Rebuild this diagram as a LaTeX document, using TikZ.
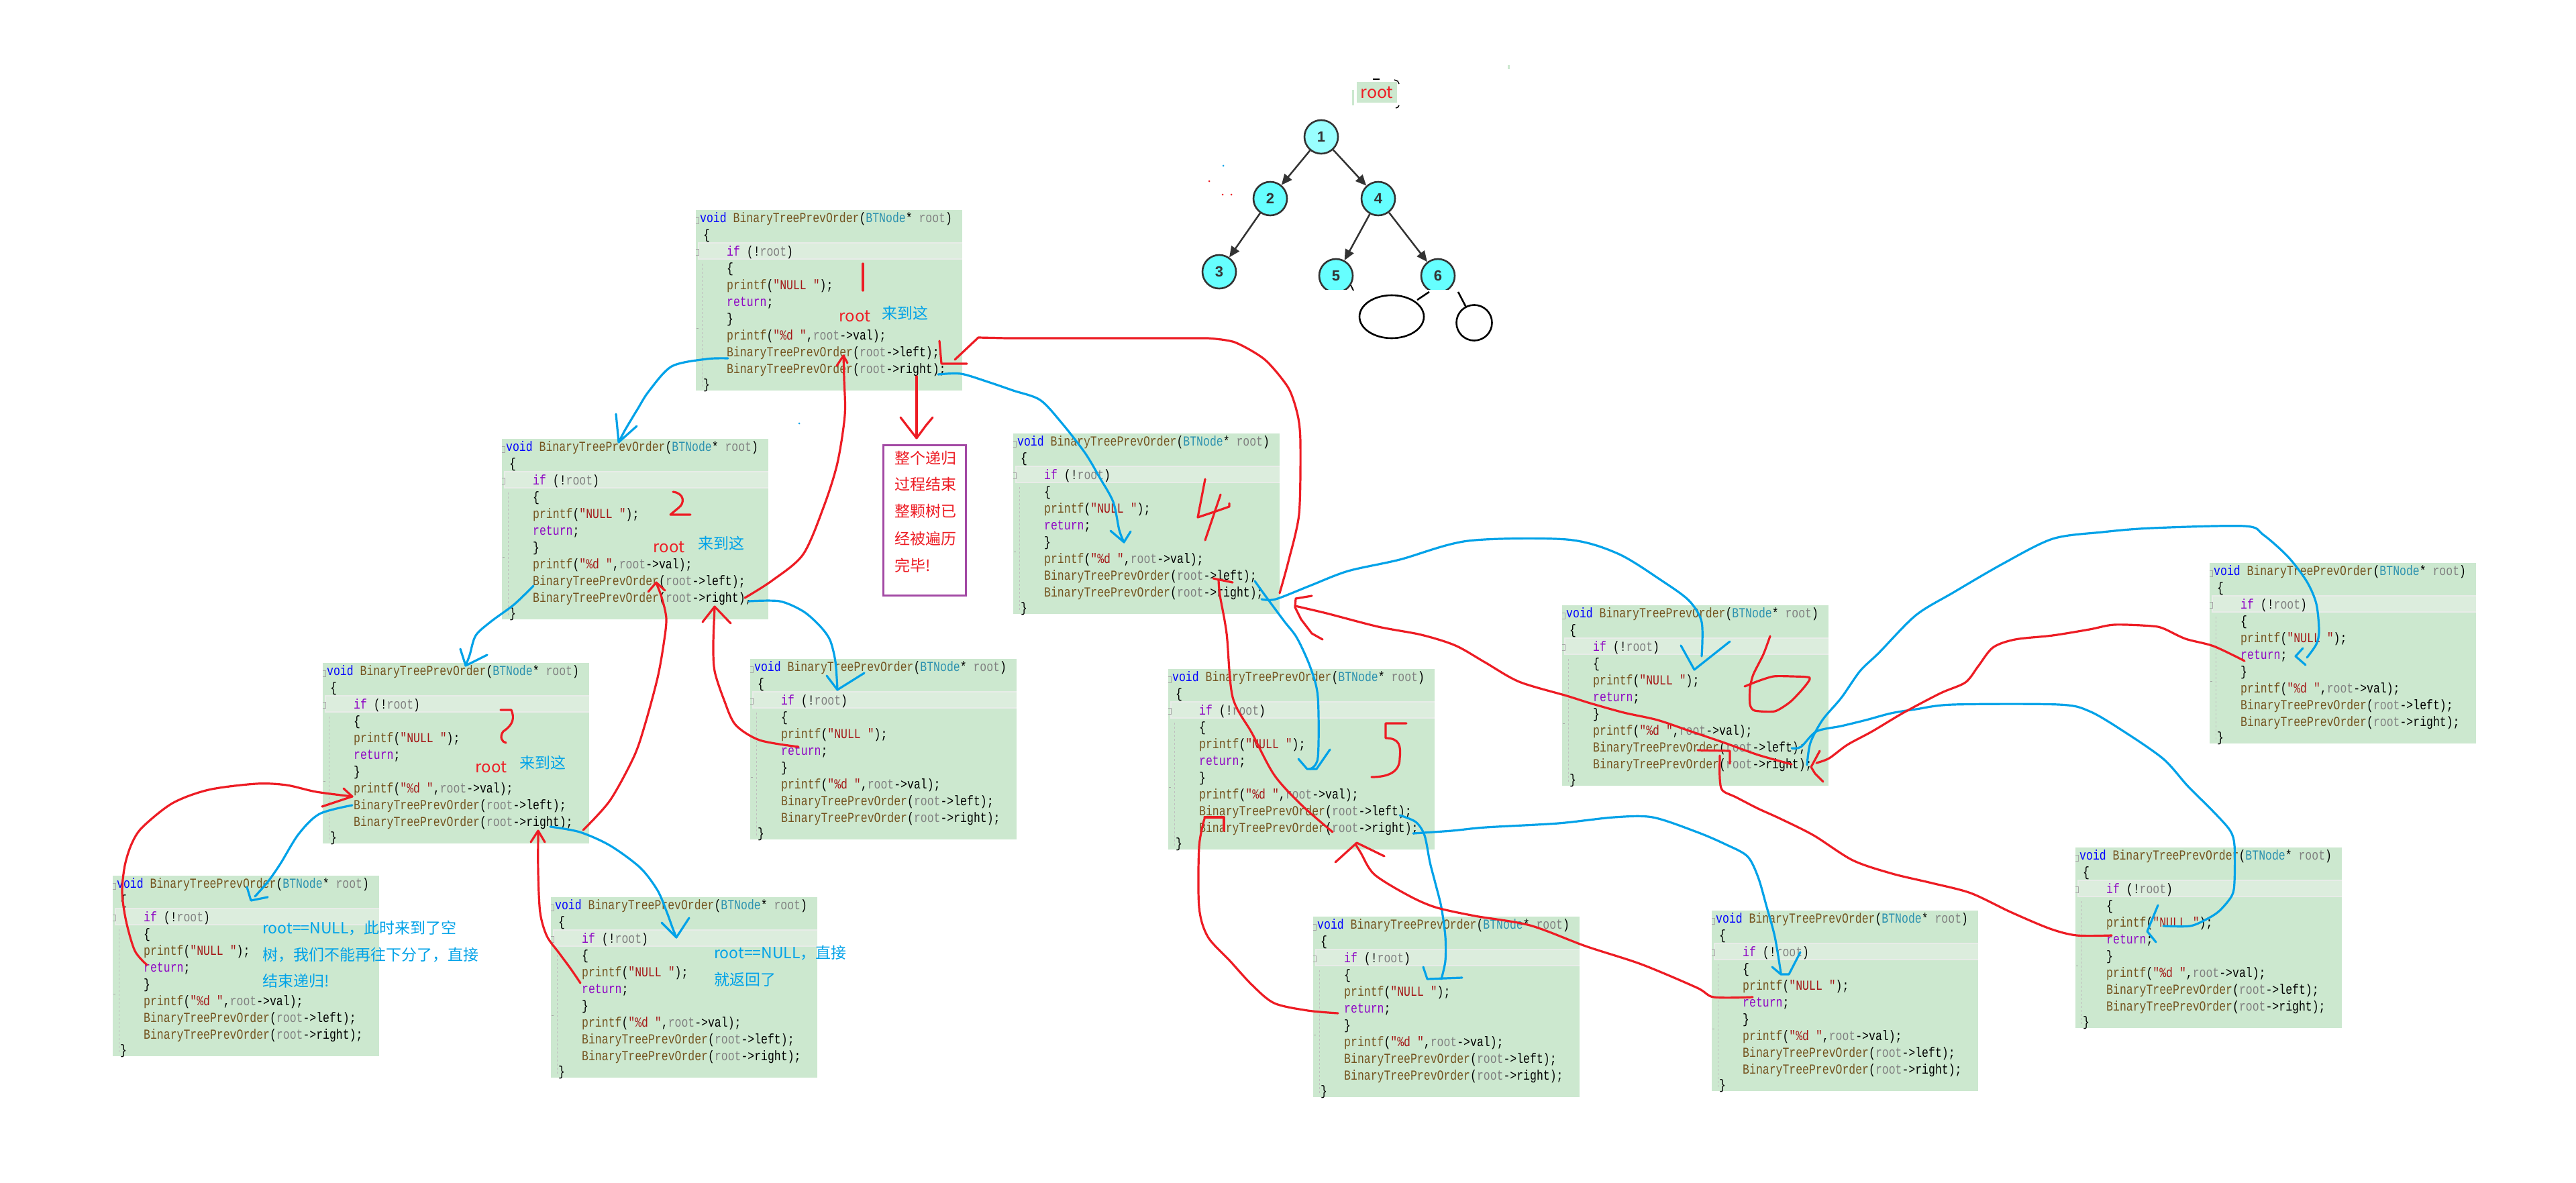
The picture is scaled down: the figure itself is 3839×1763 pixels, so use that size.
\documentclass[tikz,border=0pt]{standalone}
\usepackage{fontspec}
\usetikzlibrary{arrows.meta,shapes.geometric}
\newfontfamily\codefont[FakeStretch=0.8]{Liberation Mono}
\newfontfamily\cjk{Noto Sans CJK SC}
\newfontfamily\numfont{Liberation Sans}
\definecolor{cbg}{RGB}{204,232,207}
\definecolor{chl}{RGB}{220,237,221}
\definecolor{chlb}{RGB}{232,236,232}
\definecolor{ckw}{RGB}{0,0,255}
\definecolor{cfn}{RGB}{116,83,31}
\definecolor{cty}{RGB}{43,145,175}
\definecolor{cpr}{RGB}{128,128,128}
\definecolor{cctl}{RGB}{143,8,196}
\definecolor{cst}{RGB}{163,21,21}
\definecolor{pred}{RGB}{237,28,36}
\definecolor{pblue}{RGB}{0,162,232}
\definecolor{ppurple}{RGB}{163,73,164}
\definecolor{tcyan}{RGB}{102,255,255}
\definecolor{tcyanl}{RGB}{153,255,255}
\definecolor{tgray}{RGB}{51,51,51}
\tikzset{
  cbox/.style={anchor=north west, fill=cbg, minimum width=397pt, minimum height=269pt, inner sep=0pt},
  ct/.style={anchor=base west, inner sep=0pt, font=\codefont\fontsize{20.6}{25}\selectfont},
  guide/.style={draw=black!25, line width=0.8pt, dash pattern=on 3pt off 3pt},
  foldm/.style={draw=black!35, line width=1pt},
  rl/.style={draw=pred, line width=3.2pt, line cap=round, line join=round},
  bl/.style={draw=pblue, line width=3.2pt, line cap=round, line join=round},
  rtxt/.style={inner sep=0pt, text=pred, font=\cjk\fontsize{24}{28}\selectfont},
  btxt/.style={inner sep=0pt, text=pblue, font=\cjk\fontsize{23}{28}\selectfont},
  btxtl/.style={anchor=west, inner sep=0pt, text=pblue, font=\cjk\fontsize{23}{28}\selectfont},
  ntxt/.style={anchor=west, inner sep=0pt, text=pred, font=\cjk\fontsize{23}{28}\selectfont},
  tnode/.style={circle, draw=tgray, line width=2.6pt, fill=tcyan, minimum size=50pt, inner sep=0pt, text=tgray, font=\numfont\bfseries\fontsize{22}{24}\selectfont},
  tedge/.style={draw=tgray, line width=2.5pt, -{Triangle[length=16pt,width=14pt]}},
  hand/.style={draw=black, line width=2.6pt},
}
\newcommand\codeboxat[3]{%
\begin{scope}[shift={(#2,#3)}]
\node[cbox] (#1) at (0,0) {};
\fill[chl] (4,49) rectangle (397,73);
\draw[chlb, line width=1.6pt] (397,49) -- (4,49) -- (4,73) -- (397,73);
\draw[guide] (9,80) -- (9,264);
\draw[foldm] (0,11) -- (4,11) -- (4,20) -- (0,20);
\draw[foldm] (0,58) -- (4,58) -- (4,67) -- (0,67);
\draw[foldm] (1,176) -- (4,176);
\node[ct] (#1-a) at (6,18) {\textcolor{ckw}{void} \textcolor{cfn}{BinaryTreePrevOrder}(\textcolor{cty}{BTNode}* \textcolor{cpr}{root})};
\node[ct] (#1-b) at (11,43) {\{};
\node[ct] (#1-c) at (46,68) {\textcolor{cctl}{if} (!\textcolor{cpr}{root})};
\node[ct] (#1-d) at (46,93) {\{};
\node[ct] (#1-e) at (46,118) {\textcolor{cfn}{printf}(\textcolor{cst}{"NULL "});};
\node[ct] (#1-f) at (46,143) {\textcolor{cctl}{return};};
\node[ct] (#1-g) at (46,168) {\}};
\node[ct] (#1-h) at (46,193) {\textcolor{cfn}{printf}(\textcolor{cst}{"\%d "},\textcolor{cpr}{root}->val);};
\node[ct] (#1-i) at (46,218) {\textcolor{cfn}{BinaryTreePrevOrder}(\textcolor{cpr}{root}->left);};
\node[ct] (#1-j) at (46,243) {\textcolor{cfn}{BinaryTreePrevOrder}(\textcolor{cpr}{root}->right);};
\node[ct] (#1-k) at (11,266) {\}};
\end{scope}}
\begin{document}
\begin{tikzpicture}[x=1pt,y=-1pt]
\useasboundingbox (0,0) rectangle (3839,1763);
\fill[white] (0,0) rectangle (3839,1763);

% ---------- code boxes ----------
\codeboxat{b1}{1037}{313}
\codeboxat{b2}{748}{654}
\codeboxat{b3}{481}{988}
\codeboxat{b4}{168}{1305}
\codeboxat{b5}{821}{1337}
\codeboxat{b6}{1118}{982}
\codeboxat{b7}{1510}{646}
\codeboxat{b8}{1741}{997}
\codeboxat{b9}{2328}{902}
\codeboxat{b10}{3293}{839}
\codeboxat{b11}{3093}{1263}
\codeboxat{b12}{1957}{1366}
\codeboxat{b13}{2551}{1357}

% ---------- tree ----------
\node[fill=cbg, minimum width=60pt, minimum height=31pt, inner sep=0pt, text=pred, font=\cjk\fontsize{25}{28}\selectfont] (rootlbl) at (2052,138) {root};
\draw[cbg, line width=3pt] (2016,134) -- (2016,157);
\draw[cbg, line width=3pt] (2248,97) -- (2248,103);
\draw[black, line width=1.5pt] (2046,118) -- (2056,118);
\draw[black, line width=1.5pt] (2078,119) -- (2083,121) -- (2085,125);
\draw[black, line width=1.5pt] (2085,157) -- (2083,160) -- (2080,161);
\node[tnode, fill=tcyanl] (n1) at (1969,204) {1};
\node[tnode] (n2) at (1893,296) {2};
\node[tnode] (n4) at (2054,296) {4};
\node[tnode] (n3) at (1817,405) {3};
\node[tnode] (n5) at (1991,411) {5};
\node[tnode] (n6) at (2143,411) {6};
\draw[tedge] (n1) -- (n2);
\draw[tedge] (n1) -- (n4);
\draw[tedge] (n2) -- (n3);
\draw[tedge] (n4) -- (n5);
\draw[tedge] (n4) -- (n6);
\fill[white] (1962,432) rectangle (2175,441);
\node[ellipse, draw=black, line width=2.6pt, minimum width=96pt, minimum height=64pt, inner sep=0pt] (e1) at (2074,472) {};
\node[circle, draw=black, line width=2.6pt, minimum size=53pt, inner sep=0pt] (e2) at (2197,481) {};
\coordinate (s6a) at (2130,435);
\coordinate (s6b) at (2173,435);
\draw[hand] (s6a) -- (2112,447);
\draw[hand] (s6b) -- (2185,458);
\draw[hand, line width=1.8pt] (2013,425) -- (2017,433);
% tiny specks
\fill[pblue] (1823,247) circle (1.5pt);
\fill[pred] (1802,270) circle (1.5pt);
\fill[pred] (1822,290) circle (1.5pt);
\fill[pred] (1835,290) circle (1.5pt);
\fill[pblue] (1191,631) circle (1.5pt);

% ---------- annotations ----------
\node[rtxt] (r1t) at (1274,471) {root};
\node[btxt] (c1t) at (1349,467) {来到这};
\node[rtxt] (r2t) at (997,815) {root};
\node[btxt] (c2t) at (1075,810) {来到这};
\node[rtxt] (r3t) at (732,1143) {root};
\node[btxt] (c3t) at (809,1137) {来到这};

\node[btxtl] (t4a) at (391,1383) {root==NULL，此时来到了空};
\node[btxtl] (t4b) at (391,1423) {树，我们不能再往下分了，直接};
\node[btxtl] (t4c) at (391,1462) {结束递归!};
\node[btxtl] (t5a) at (1064,1420) {root==NULL，直接};
\node[btxtl] (t5b) at (1064,1460) {就返回了};

\node[draw=ppurple, line width=3pt, anchor=north west, minimum width=123pt, minimum height=224pt, inner sep=0pt] (note) at (1315,662) {};
\node[ntxt] (nt1) at (1333,683) {整个递归};
\node[ntxt] (nt2) at (1333,722) {过程结束};
\node[ntxt] (nt3) at (1333,762) {整颗树已};
\node[ntxt] (nt4) at (1333,803) {经被遍历};
\node[ntxt] (nt5) at (1333,843) {完毕!};

% hand-written numbers
\draw[rl] (1286,393) -- (1286,433);
\draw[rl] (1003,733) .. controls (1020,735) and (1021,750) .. (1011,757) -- (999,767) -- (1029,767);
\draw[rl] (746,1058) -- (762,1058) .. controls (767,1070) and (765,1080) .. (750,1090) .. controls (744,1098) and (748,1106) .. (754,1107);
\draw[rl] (1796,714) -- (1785,771) -- (1812,762) -- (1832,755) -- (1832,750);
\draw[rl] (1819,737) -- (1796,805);
\draw[rl] (2096,1078) -- (2065,1078) -- (2065,1100) .. controls (2086,1100) and (2088,1112) .. (2086,1130) .. controls (2086,1150) and (2070,1158) .. (2044,1158);
\draw[rl] plot[smooth, tension=0.4] coordinates {(2638,948) (2628,975) (2613,1005) (2608,1025) (2608,1050) (2615,1059) (2645,1060) (2668,1046) (2688,1025) (2697,1010) (2670,1008) (2643,1008) (2620,1015) (2600,1023)};

% ---------- blue: calls ----------
\draw[bl] plot[smooth] coordinates {(1085,534) (1053,535) (1001,546) (967,583) (950,610) (932,640) (922,659)};
\draw[bl] (918,617) -- (922,659) -- (949,635);
\draw[bl] plot[smooth] coordinates {(1398,558) (1432,557) (1472,569) (1510,582) (1550,596) (1582,630) (1617,675) (1639,712) (1659,748) (1668,790) (1675,808)};
\draw[bl] (1655,791) -- (1675,808) -- (1685,792);
\draw[bl] plot[smooth] coordinates {(795,873) (766,901) (732,926) (709,947) (700,976) (694,992)};
\draw[bl] (686,967) -- (694,992) -- (726,976);
\draw[bl] plot[smooth] coordinates {(1116,896) (1162,896) (1197,911) (1222,933) (1237,954) (1245,986) (1248,1028)};
\draw[bl] (1232,1007) -- (1248,1028) -- (1288,1003);
\draw[bl] plot[smooth] coordinates {(525,1200) (476,1213) (445,1243) (418,1287) (400,1313) (380,1336)};
\draw[bl] (368,1322) -- (374,1342) -- (399,1337);
\draw[bl] plot[smooth] coordinates {(820,1232) (864,1240) (909,1260) (954,1293) (980,1327) (994,1360) (1002,1382) (1008,1397)};
\draw[bl] (986,1375) -- (1008,1397) -- (1027,1368);
\draw[bl] plot[smooth] coordinates {(1870,866) (1888,891) (1914,926) (1933,951) (1953,995) (1964,1039) (1964,1129) (1952,1146)};
\draw[bl] (1935,1131) -- (1948,1146) -- (1962,1146) -- (1982,1117);
\draw[bl] plot[smooth] coordinates {(1880,893) (1901,893) (1952,873) (2009,851) (2086,834) (2188,806) (2335,804) (2411,825) (2476,865) (2517,895) (2536,927) (2536,978)};
\draw[bl] (2505,962) -- (2525,998) -- (2578,956);
\draw[bl] plot[smooth] coordinates {(2086,1215) (2110,1225) (2123,1245) (2131,1285) (2139,1316) (2148,1352) (2154,1396) (2154,1432) (2148,1459)};
\draw[bl] (2121,1441) -- (2127,1459) -- (2179,1457);
\draw[bl] plot[smooth] coordinates {(2106,1242) (2164,1238) (2214,1233) (2322,1227) (2405,1218) (2463,1218) (2529,1240) (2571,1258) (2604,1276) (2620,1307) (2633,1352) (2645,1396) (2654,1450)};
\draw[bl] (2641,1441) -- (2654,1452) -- (2666,1452) -- (2683,1419);
\draw[bl] plot[smooth] coordinates {(2670,1115) (2684,1113) (2707,1090) (2744,1082) (2781,1073) (2818,1063) (2855,1057) (2911,1050) (3068,1050) (3114,1060) (3165,1090) (3224,1131) (3260,1171) (3297,1208) (3323,1237) (3330,1260) (3330,1314) (3326,1335) (3308,1357) (3290,1369) (3264,1380) (3224,1380)};
\draw[bl] (3216,1349) -- (3200,1388) -- (3213,1404);
\draw[bl] plot[smooth] coordinates {(2693,1140) (2698,1107) (2716,1073) (2744,1040) (2772,1000) (2800,973) (2855,917) (2911,883) (2985,840) (3059,803) (3133,793) (3207,787) (3345,784) (3373,797) (3410,830) (3438,867) (3452,900) (3456,940) (3452,960) (3438,980)};
\draw[bl] (3432,966) -- (3421,978) -- (3436,991);

% ---------- red: returns ----------
\draw[rl] (1366,561) -- (1366,650);
\draw[rl] (1342,622) -- (1352,635) -- (1366,653) -- (1380,634) -- (1390,622);
\draw[rl] plot[smooth] coordinates {(1110,891) (1151,865) (1197,826) (1228,754) (1248,690) (1259,619) (1258,565) (1257,530)};
\draw[rl] (1247,545) -- (1257,530) -- (1263,541);
\draw[rl] plot[smooth] coordinates {(869,1237) (909,1193) (945,1127) (962,1077) (980,1010) (989,960) (993,922) (986,890) (978,869)};
\draw[rl] (966,882) -- (978,868) -- (991,880);
\draw[rl] plot[smooth] coordinates {(219,1438) (201,1417) (188,1373) (182,1330) (186,1290) (196,1258) (212,1233) (257,1197) (311,1177) (382,1168) (427,1170) (471,1180) (525,1187)};
\draw[rl] (512,1175) -- (525,1187) -- (480,1202);
\draw[rl] plot[smooth] coordinates {(865,1465) (850,1443) (833,1420) (815,1395) (805,1360) (802,1300) (802,1240)};
\draw[rl] (791,1255) -- (802,1238) -- (812,1255);
\draw[rl] plot[smooth] coordinates {(1190,1113) (1132,1103) (1096,1080) (1079,1043) (1065,1000) (1063,960) (1065,906)};
\draw[rl] (1047,927) -- (1065,904) -- (1089,929);
\draw[rl] plot[smooth, tension=0.45] coordinates {(1907,884) (1920,837) (1936,766) (1938,660) (1934,619) (1920,578) (1885,536) (1840,510) (1800,504)} -- (1500,504) -- (1458,503) -- (1423,536);
\draw[rl] (1400,508) -- (1403,542) -- (1441,542);
\draw[rl] plot[smooth] coordinates {(1986,1240) (1940,1200) (1899,1155) (1866,1093) (1837,1039) (1828,944) (1818,887) (1816,864)};
\draw[rl] (1808,862) -- (1837,868);
\draw[rl] plot[smooth] coordinates {(2670,1139) (2620,1125) (2570,1107) (2520,1090) (2470,1073) (2420,1062) (2370,1048) (2335,1037) (2264,1016) (2213,987) (2169,962) (2118,946) (2054,934) (1977,914) (1930,903)};
\draw[rl] (1955,888) -- (1931,892) -- (1930,905) -- (1939,923) -- (1955,944) -- (1971,953);
\draw[rl] plot[smooth] coordinates {(3345,985) (3299,963) (3257,952) (3225,937) (3207,933) (3151,931) (3114,938) (3059,947) (3003,953) (2970,965) (2948,993) (2929,1017) (2892,1033) (2837,1062) (2790,1090) (2753,1110) (2726,1130) (2707,1137)};
\draw[rl] (2712,1119) -- (2699,1143) -- (2705,1153) -- (2717,1165);
\draw[rl] plot[smooth] coordinates {(3147,1394) (3095,1394) (3055,1384) (2996,1359) (2937,1331) (2879,1316) (2820,1302) (2761,1282) (2703,1245) (2653,1220) (2620,1205) (2587,1188) (2567,1178) (2563,1160) (2563,1126)};
\draw[rl] (2530,1118) -- (2578,1119) -- (2578,1138);
\draw[rl] plot[smooth] coordinates {(1994,1510) (1949,1506) (1899,1495) (1866,1468) (1833,1432) (1800,1396) (1787,1352) (1787,1262) (1795,1220)};
\draw[rl] (1795,1218) -- (1824,1218) -- (1824,1238);
\draw[rl] plot[smooth] coordinates {(2612,1486) (2554,1486) (2529,1472) (2446,1437) (2363,1410) (2280,1379) (2198,1365) (2139,1352) (2098,1334) (2048,1303) (2028,1271) (2020,1258)};
\draw[rl] (1990,1285) -- (2022,1256) -- (2063,1276);
\end{tikzpicture}
\end{document}
